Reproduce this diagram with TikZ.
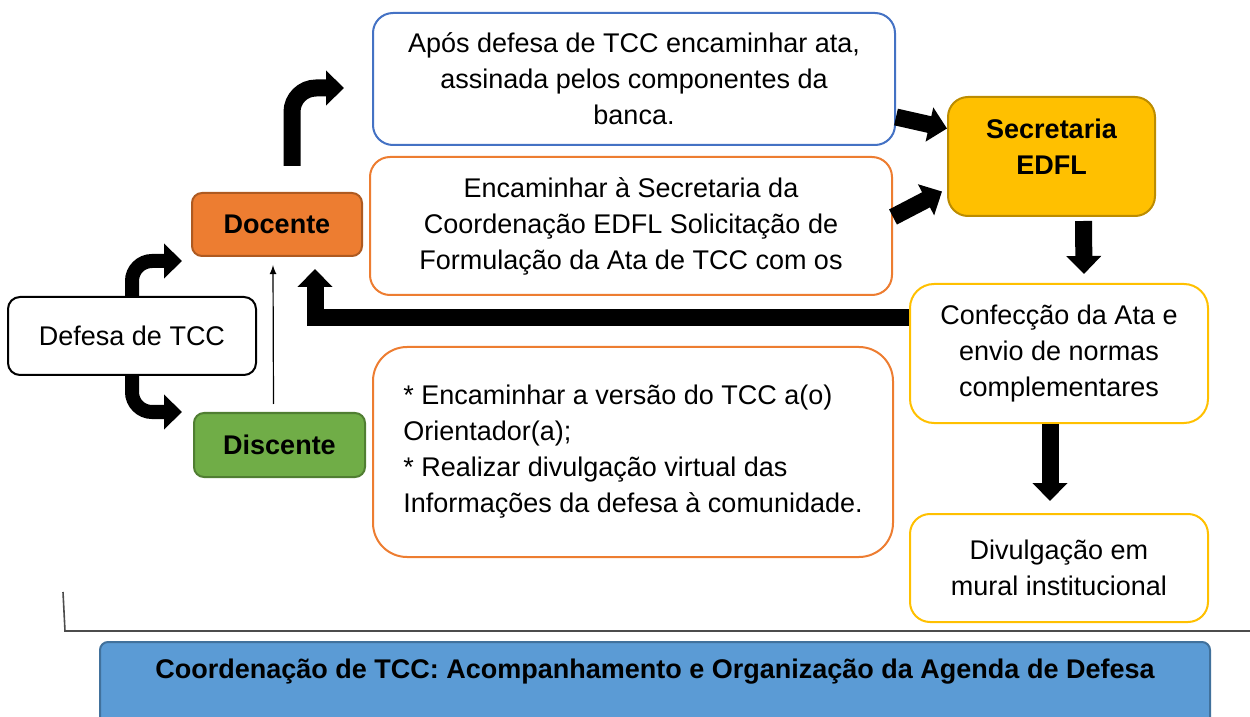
\documentclass[tikz,border=0pt]{standalone}
\usepackage{fontspec}
\setmainfont{Liberation Sans}
\usepackage{xcolor}
\usepackage{tikz}
\usetikzlibrary{arrows.meta}
\usetikzlibrary{shapes,arrows,positioning}
\tikzset{>=latex}

\definecolor{boxblue}{HTML}{4472C4}
\definecolor{boxorange}{HTML}{ED7D31}
\definecolor{darkorange}{HTML}{AE5A21}
\definecolor{boxgreen}{HTML}{70AD47}
\definecolor{darkgreen}{HTML}{507E32}
\definecolor{boxgold}{HTML}{FFC000}
\definecolor{darkgold}{HTML}{BC8C00}
\definecolor{coordblue}{HTML}{5B9BD5}
\definecolor{darkblue}{HTML}{41719C}

\newcommand{\boxfont}{\fontsize{13.5}{18}\selectfont}

\tikzset{
    every node/.style={font=\boxfont},
    infobox/.style={draw, line width=1pt, rounded corners=10pt, fill=white,
        align=center, inner sep=0pt},
    fatarrow/.style={line width=8.5pt, -{Triangle[length=9pt,width=17pt]}},
}

\begin{document}
\begin{tikzpicture}[x=0.5pt, y=-0.5pt]
        \useasboundingbox (0,0) rectangle (1250,717);
        \clip (0,0) rectangle (1250,717);

        % left side
        \node[
            infobox,
            draw=black,
            rounded corners=6pt,
            minimum width=124pt,
            minimum height=39pt,
        ] (defesa) at (132,336) {Defesa de TCC};

        \node[
            infobox,
            draw=darkorange,
            fill=boxorange,
            rounded corners=5pt,
            minimum width=85pt,
            minimum height=31.5pt,
            font=\boxfont\bfseries,
        ] (docente) at (277,224.5) {Docente};

        \node[
            infobox,
            draw=darkgreen,
            fill=boxgreen,
            rounded corners=5pt,
            minimum width=85.5pt,
            minimum height=32pt,
            font=\boxfont\bfseries,
        ] (discente) at (279.5,445) {Discente};

        % middle boxes
        \node[
            infobox,
            draw=boxblue,
            minimum width=261pt,
            minimum height=66pt,
        ] (apos) at (634,79) {Após defesa de TCC encaminhar ata,\\assinada pelos componentes da\\banca.};

        \node[
            infobox,
            draw=boxorange,
            minimum width=261pt,
            minimum height=69pt,
        ] (encam) at (631,226) {Encaminhar à Secretaria da\\Coordenação EDFL Solicitação de\\Formulação da Ata de TCC com os};

        \node[
            infobox,
            draw=boxorange,
            rounded corners=17pt,
            align=left,
            minimum width=260pt,
            minimum height=105pt,
        ] (versao) at (633,452) {* Encaminhar a versão do TCC a(o)\\Orientador(a);\\* Realizar divulgação virtual das\\Informações da defesa à comunidade.};

        % right side
        \node[
            infobox,
            draw=darkgold,
            fill=boxgold,
            minimum width=103.5pt,
            minimum height=59.5pt,
            label={[yshift=5pt, align=center, font=\boxfont\bfseries]center:Secretaria\\EDFL},
        ] (secret) at (1051.5,156.5) {};

        \node[
            infobox,
            draw=boxgold,
            rounded corners=12pt,
            minimum width=149pt,
            minimum height=69.5pt,
        ] (conf) at (1059,353.5) {Confecção da Ata e\\envio de normas\\complementares};

        \node[
            infobox,
            draw=boxgold,
            minimum width=149pt,
            minimum height=54pt,
        ] (divul) at (1059,568) {Divulgação em\\mural institucional};

        % coordenacao
        \draw[gray!60!black, line width=0.8pt] (63,592) -- (65,631) -- (1250,631);
        \node[
            infobox,
            draw=darkblue,
            fill=coordblue,
            rounded corners=4pt,
            minimum width=555pt,
            minimum height=44pt,
            label={[yshift=7pt, font=\boxfont\bfseries]center:Coordenação de TCC: Acompanhamento e Organização da Agenda de Defesa},
        ] (coord) at (655,686) {};

        % arrows
        \draw[fatarrow, line width=7pt, rounded corners=10pt]
            (defesa.north) |- ([xshift=-4.5pt,yshift=-2pt]docente.south west);
        \draw[fatarrow, line width=7pt, rounded corners=10pt]
            (defesa.south) |- ([xshift=-5.5pt]discente.north west);
        \draw[->, line width=0.6pt]
            ([xshift=-3pt,yshift=4pt]discente.north) -- ([xshift=-2pt,yshift=-4pt]docente.south);
        \draw[fatarrow, rounded corners=12pt]
            ([xshift=7.5pt,yshift=13pt]docente.north) |- ([xshift=-14pt,yshift=-4.5pt]apos.west);
        \draw[fatarrow]
            ([yshift=18pt]conf.west) -| ([xshift=19pt,yshift=-6pt]docente.south);
        \draw[fatarrow]
            ([yshift=-19pt]apos.east) -- ([yshift=14pt]secret.west);
        \draw[fatarrow]
            ([yshift=4.5pt]encam.east) -- ([xshift=-2.5pt,yshift=-17.5pt]secret.west);
        \draw[fatarrow]
            ([xshift=16pt,yshift=-2pt]secret.south) -- ([xshift=12.5pt,yshift=4.5pt]conf.north);
        \draw[fatarrow]
            ([xshift=-4.5pt]conf.south) -- ([xshift=-4.5pt,yshift=6pt]divul.north);
    \end{tikzpicture}
\end{document}
